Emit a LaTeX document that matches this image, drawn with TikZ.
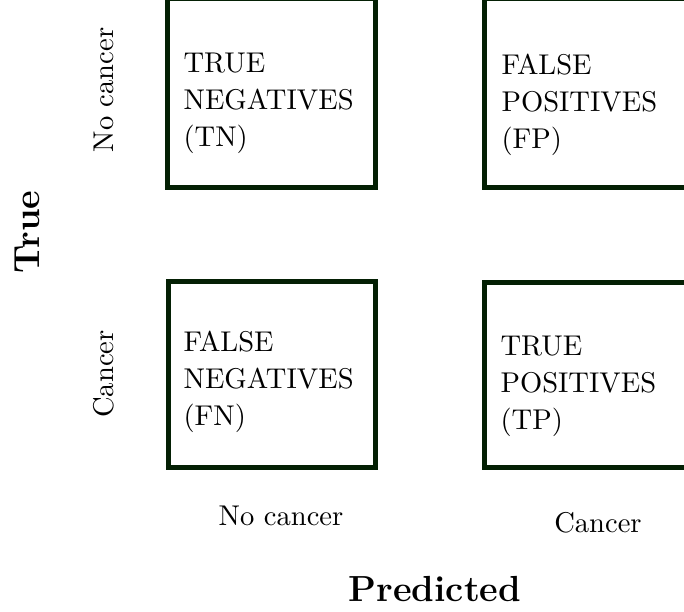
\documentclass[tikz,border=0pt]{standalone}
\begin{document}
\begin{tikzpicture}[x=0.35pt,y=-0.35pt,
  cellbox/.style={draw=boxgreen,line width=1.75pt},
  celltext/.style={anchor=north west,inner sep=0pt,align=left,
    font=\fontsize{10}{13}\selectfont},
  classlabel/.style={inner sep=0pt,font=\fontsize{10}{12}\selectfont},
  axislabel/.style={inner sep=0pt,font=\fontsize{12.7}{15}\selectfont\bfseries}]
\definecolor{boxgreen}{RGB}{4,32,4}
\useasboundingbox (0,0) rectangle (684,612);
\clip (0,0) rectangle (684,612);

% confusion matrix cells
\draw[cellbox] (167.5,-1.5) rectangle (375.5,187.5);
\draw[cellbox] (484.5,-1.5) rectangle (692.5,187.5);
\draw[cellbox] (168,282) rectangle (375.5,467.5);
\draw[cellbox] (484.5,282.5) rectangle (692.5,467.5);

\node[celltext] (tn) at (183,52) {TRUE\\NEGATIVES\\(TN)};
\node[celltext] (fp) at (501,53) {FALSE\\POSITIVES\\(FP)};
\node[celltext] (fn) at (183,330) {FALSE\\NEGATIVES\\(FN)};
\node[celltext] (tp) at (500,335) {TRUE\\POSITIVES\\(TP)};

% row labels (true class)
\node[classlabel,rotate=90] (rowneg) at (104,90) {No cancer};
\node[classlabel,rotate=90] (rowpos) at (104,374) {Cancer};
\node[axislabel,rotate=90] (truelab) at (27,232) {True};

% column labels (predicted class)
\node[classlabel,anchor=base] (colneg) at (281,526) {No cancer};
\node[classlabel,anchor=base] (colpos) at (598,533) {Cancer};
\node[axislabel,anchor=base] (predlab) at (435,602) {Predicted};
\end{tikzpicture}
\end{document}
